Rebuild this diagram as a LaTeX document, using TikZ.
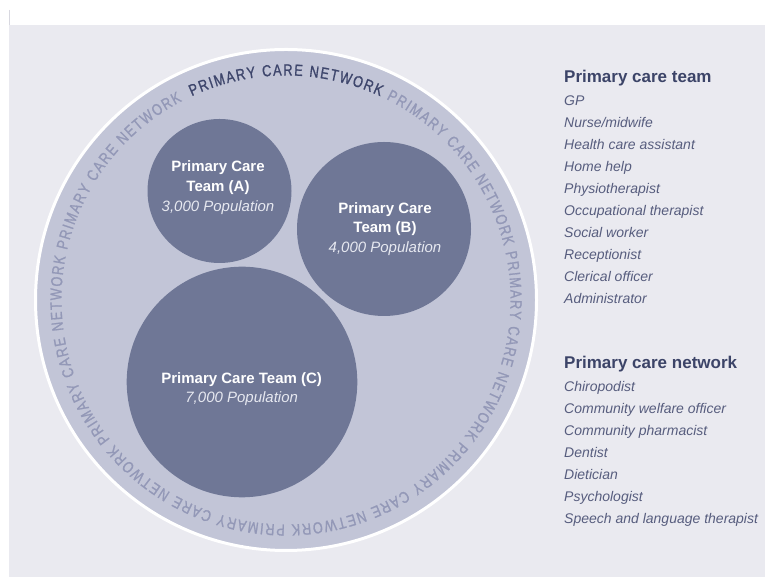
\documentclass[tikz,border=0pt]{standalone}
\usepackage{fontspec}
\setmainfont{Liberation Sans}
\newfontfamily\ringfont[FakeStretch=0.8,FakeBold=1]{Liberation Sans}
\usetikzlibrary{decorations.text}
\definecolor{bgc}{HTML}{EAEAF0}
\definecolor{edgec}{HTML}{D8D8E0}
\definecolor{bigfill}{HTML}{C2C5D7}
\definecolor{teamfill}{HTML}{6F7796}
\definecolor{ringdark}{HTML}{3E466C}
\definecolor{ringlight}{HTML}{9398B7}
\definecolor{headc}{HTML}{3C4468}
\definecolor{itemc}{HTML}{575D7E}
\definecolor{popc}{HTML}{E6E8F0}
\newcommand\ringDk{\ringfont\fontsize{16}{16}\selectfont\color{ringdark}}
\newcommand\ringLt{\ringfont\fontsize{16}{16}\selectfont\color{ringlight}}
\tikzset{
  team/.style={circle, fill=teamfill, inner sep=0pt, minimum size=#1},
  tbold/.style={anchor=base, text=white, font=\fontsize{15}{18}\selectfont\bfseries, inner sep=0pt},
  tpop/.style={anchor=base, text=popc, font=\fontsize{15}{18}\selectfont\itshape, inner sep=0pt},
  head/.style={anchor=base west, text=headc, font=\fontsize{17}{20}\selectfont\bfseries, inner sep=0pt},
  item/.style={anchor=base west, text=itemc, font=\fontsize{14}{17}\selectfont\itshape, inner sep=0pt},
}
\begin{document}
\begin{tikzpicture}[x=1pt,y=1pt]
\useasboundingbox (0,0) rectangle (765,577);
\fill[white] (0,0) rectangle (765,577);
\fill[bgc] (9,0) rectangle (765,552);
\draw[edgec, line width=0.8pt] (9.4,567) -- (9.4,552);
% network circle
\node[circle, fill=bigfill, draw=white, line width=3pt, minimum size=501pt, inner sep=0pt] (net) at (286,277) {};
\path[decorate, decoration={text along path, text align={fit to path},
  text={|\ringDk|PRIMARY CARE NETWORK |\ringLt|PRIMARY CARE NETWORK PRIMARY CARE NETWORK PRIMARY CARE NETWORK PRIMARY CARE NETWORK PRIMARY CARE NETWORK PRIMARY CARE NETWORK}}]
  (net.center) ++(114.8:224.5pt) arc[start angle=114.8, end angle=-242.4, radius=224.5pt];
% teams
\node[team=144pt] (A) at (219.5,386) {};
\node[team=174pt] (B) at (384,348) {};
\node[team=230.6pt] (C) at (242,195) {};
\node[tbold] (A1) at (218,405.5) {Primary Care};
\node[tbold] (A2) at (218,385.5) {Team (A)};
\node[tpop] (A3) at (218,365) {3,000 Population};
\node[tbold] (B1) at (385,363) {Primary Care};
\node[tbold] (B2) at (385,344.3) {Team (B)};
\node[tpop] (B3) at (385,324.3) {4,000 Population};
\node[tbold] (C1) at (241.7,193.6) {Primary Care Team (C)};
\node[tpop] (C2) at (241.7,174) {7,000 Population};
% lists
\node[head] (h1) at (564,494) {Primary care team};
\foreach \t [count=\i] in {GP, Nurse/midwife, Health care assistant, Home help, Physiotherapist, Occupational therapist, Social worker, Receptionist, Clerical officer, Administrator}
  \node[item] (t\i) at (564,493-22*\i) {\t};
\node[head] (h2) at (564,208) {Primary care network};
\foreach \t [count=\i] in {Chiropodist, Community welfare officer, Community pharmacist, Dentist, Dietician, Psychologist, Speech and language therapist}
  \node[item] (n\i) at (564,207-22*\i) {\t};
\end{tikzpicture}
\end{document}
